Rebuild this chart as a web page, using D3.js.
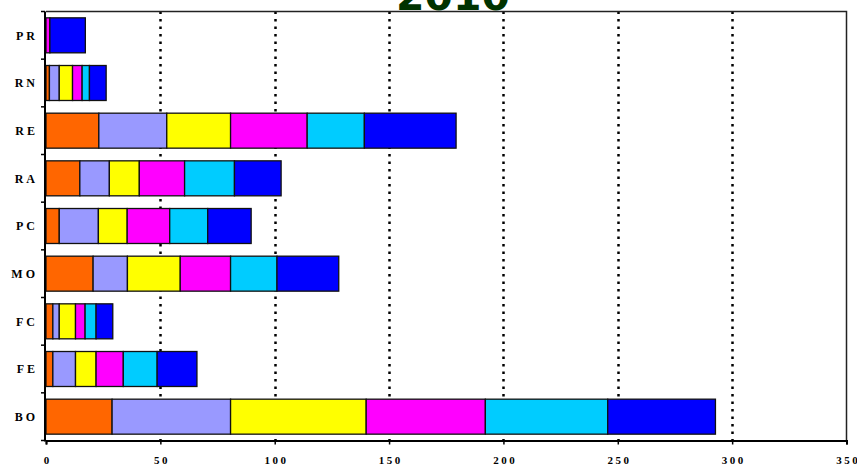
<!DOCTYPE html>
<html>
<head>
<meta charset="utf-8">
<script src="https://cdn.jsdelivr.net/npm/d3@7"></script>
<style>
  body { margin: 0; background: #fff; }
  .lbl { font-family: "Liberation Serif", "Times New Roman", serif; font-weight: bold; font-size: 11px; letter-spacing: 2.5px; fill: #000; }
  .cat { font-family: "Liberation Serif", "Times New Roman", serif; font-weight: bold; font-size: 12px; letter-spacing: 3px; fill: #000; }
</style>
</head>
<body>
<svg id="svg"></svg>
<script>
// categories top to bottom
const categories = ['PR', 'RN', 'RE', 'RA', 'PC', 'MO', 'FC', 'FE', 'BO'];

// six stacked series, one value per category (same order as categories)
const orangeVals   = [0,   1.5, 23.1, 14.8,  5.8, 20.6, 3.0,  3.0, 28.9];
const lavenderVals = [0,   4.3, 29.7, 12.9, 17.1, 15.0, 2.8,  9.9, 51.8];
const yellowVals   = [0,   5.8, 27.9, 13.1, 12.6, 23.1, 7.1,  9.0, 59.3];
const magentaVals  = [1.7, 4.2, 33.5, 19.8, 18.6, 22.0, 4.2, 11.9, 52.1];
const cyanVals     = [0,   3.2, 25.0, 21.8, 16.6, 20.3, 4.8, 14.8, 53.5];
const blueVals     = [15.5, 7.3, 40.1, 20.4, 19.0, 27.0, 7.3, 17.4, 47.1];

const xTicks = [0, 50, 100, 150, 200, 250, 300, 350];
const title = '2010';

const seriesKeys = ['orange', 'lavender', 'yellow', 'magenta', 'cyan', 'blue'];
const seriesVals = [orangeVals, lavenderVals, yellowVals, magentaVals, cyanVals, blueVals];
const colors = ['#ff6600', '#9999ff', '#ffff00', '#ff00ff', '#00ccff', '#0000ff'];

const width = 857;
const height = 466;
const plotLeft = 46, plotRight = 846.5, plotTop = 11.5, plotBottom = 440.5;

const svg = d3.select('#svg')
  .attr('width', width)
  .attr('height', height);

// build rows for the stack
const rows = categories.map((c, i) => {
  const r = { cat: c };
  seriesKeys.forEach((k, j) => { r[k] = seriesVals[j][i]; });
  return r;
});
const stacked = d3.stack().keys(seriesKeys)(rows);

const x = d3.scaleLinear().domain([0, 350]).range([plotLeft, plotRight]);
const y = d3.scaleBand().domain(categories).range([plotTop, plotBottom])
  .paddingInner(0.266).paddingOuter(0.133);
const step = y.step();

// dotted gridlines
svg.append('g')
  .selectAll('line')
  .data(xTicks.filter(t => t > 0 && t < 350))
  .join('line')
  .attr('x1', d => Math.round(x(d)) + 0.5)
  .attr('x2', d => Math.round(x(d)) + 0.5)
  .attr('y1', plotTop)
  .attr('y2', plotBottom)
  .attr('stroke', '#000')
  .attr('stroke-width', 2.5)
  .attr('stroke-dasharray', '2.5,5');

// frame top / right
svg.append('path')
  .attr('d', `M${plotLeft},${plotTop}H${plotRight}V${plotBottom}`)
  .attr('fill', 'none')
  .attr('stroke', '#222')
  .attr('stroke-width', 1.5);

// bars
svg.append('g')
  .selectAll('g')
  .data(stacked)
  .join('g')
  .attr('fill', (d, i) => colors[i])
  .selectAll('rect')
  .data(d => d.filter(s => s[1] - s[0] > 0))
  .join('rect')
  .attr('x', d => x(d[0]))
  .attr('y', d => y(d.data.cat))
  .attr('width', d => x(d[1]) - x(d[0]))
  .attr('height', y.bandwidth())
  .attr('stroke', '#111')
  .attr('stroke-width', 1.3);

// x axis
const xAxis = svg.append('g')
  .attr('transform', `translate(0,${plotBottom})`)
  .call(d3.axisBottom(x).tickValues(xTicks).tickSize(4).tickPadding(12).tickFormat(d3.format('d')));
xAxis.select('.domain').attr('stroke', '#000').attr('stroke-width', 2);
xAxis.selectAll('.tick line').attr('stroke', '#000').attr('stroke-width', 1.5);
xAxis.selectAll('text').attr('class', 'lbl').attr('dx', '1.2');

// y axis line and ticks at band boundaries
svg.append('line')
  .attr('x1', plotLeft - 1).attr('x2', plotLeft - 1)
  .attr('y1', plotTop).attr('y2', plotBottom + 1)
  .attr('stroke', '#000').attr('stroke-width', 2);

svg.append('g')
  .selectAll('line')
  .data(d3.range(categories.length + 1))
  .join('line')
  .attr('x1', plotLeft - 5).attr('x2', plotLeft - 1)
  .attr('y1', i => plotTop + i * step)
  .attr('y2', i => plotTop + i * step)
  .attr('stroke', '#000')
  .attr('stroke-width', 1.5);

svg.append('g')
  .selectAll('text')
  .data(categories)
  .join('text')
  .attr('class', 'cat')
  .attr('x', 38)
  .attr('y', d => y(d) + y.bandwidth() / 2)
  .attr('dy', '0.35em')
  .attr('text-anchor', 'end')
  .text(d => d);

// title (cut off at the top)
svg.append('text')
  .attr('x', 453)
  .attr('y', 10)
  .attr('text-anchor', 'middle')
  .attr('font-family', 'DejaVu Sans, sans-serif')
  .attr('font-weight', 'bold')
  .attr('font-size', '41px')
  .attr('fill', '#003300')
  .text(title);
</script>
</body>
</html>
